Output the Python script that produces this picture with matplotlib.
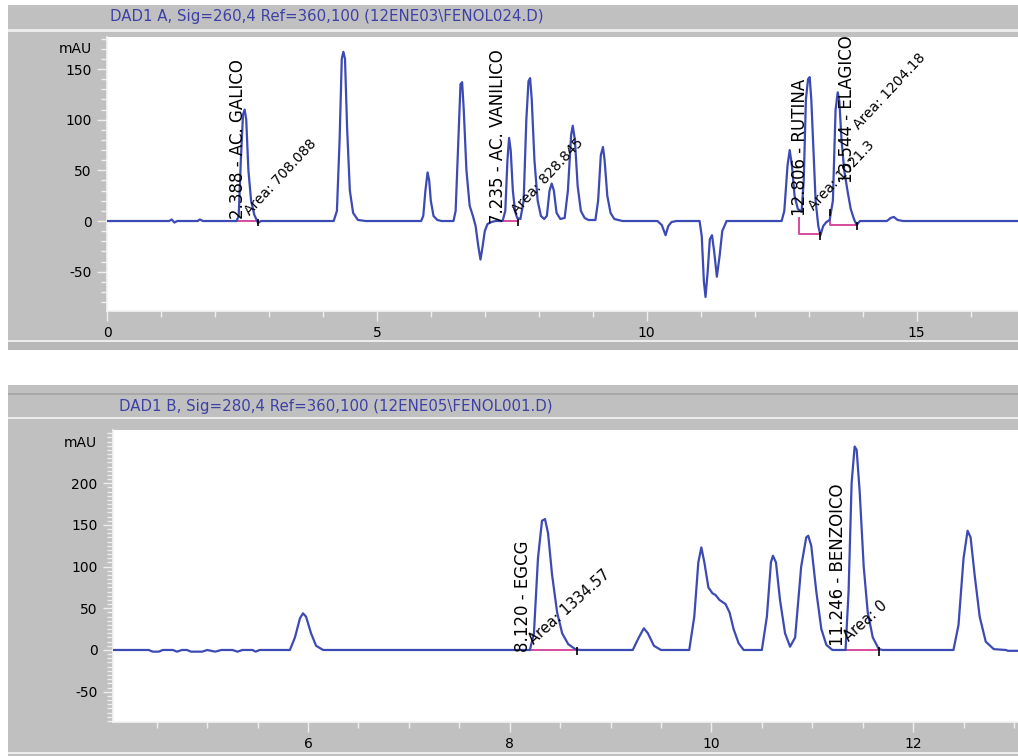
import numpy as np
import matplotlib
matplotlib.use("Agg")
import matplotlib.pyplot as plt
from matplotlib.patches import Rectangle
from matplotlib.ticker import MultipleLocator

plt.rcParams['axes.unicode_minus'] = False

# ---- data ----
# top chromatogram: DAD1 A, 260 nm (time in min, signal in mAU)
top_t = [0.0, 1.15, 1.2, 1.25, 1.3, 1.68, 1.72, 1.78,
         2.40, 2.44, 2.48, 2.52, 2.55, 2.58, 2.62, 2.67, 2.73, 2.80, 2.85,
         4.20, 4.26, 4.31, 4.35, 4.38, 4.41, 4.45, 4.50, 4.56, 4.65, 4.80,
         5.82, 5.86, 5.90, 5.94, 5.97, 6.00, 6.05, 6.12, 6.20,
         6.42, 6.46, 6.51, 6.55, 6.58, 6.61, 6.66, 6.72, 6.78,
         6.83, 6.88, 6.92, 6.96, 7.00, 7.05, 7.12, 7.20,
         7.33, 7.38, 7.42, 7.45, 7.48, 7.52, 7.56, 7.60,
         7.66, 7.72, 7.77, 7.81, 7.84, 7.87, 7.92, 7.98, 8.04, 8.10,
         8.15, 8.20, 8.24, 8.28, 8.33, 8.40,
         8.48, 8.54, 8.60, 8.63, 8.67, 8.72, 8.78, 8.85, 8.92,
         9.05, 9.10, 9.15, 9.19, 9.22, 9.27, 9.33, 9.40, 9.55,
         10.20, 10.28, 10.35, 10.40, 10.46, 10.55,
         10.98, 11.02, 11.06, 11.09, 11.13, 11.17, 11.21, 11.25, 11.30, 11.35, 11.40, 11.48,
         12.50, 12.55, 12.61, 12.65, 12.69, 12.74, 12.80, 12.87,
         12.91, 12.95, 12.99, 13.02, 13.05, 13.09, 13.13, 13.18, 13.22, 13.27, 13.33, 13.39,
         13.45, 13.50, 13.54, 13.57, 13.61, 13.66, 13.72, 13.78, 13.84, 13.89, 13.95,
         14.45, 14.52, 14.58, 14.65, 14.75, 16.9]
top_mau = [0, 0, 1.5, -1.5, 0, 0, 1.5, 0,
           0, 5, 60, 105, 110, 100, 50, 20, 6, -2, 0,
           0, 10, 80, 160, 167, 160, 90, 30, 8, 1, 0,
           0, 5, 30, 48, 40, 20, 5, 1, 0,
           0, 10, 80, 135, 137, 110, 50, 15, 5,
           -5, -25, -38, -25, -10, -3, -1, 0,
           0, 10, 60, 82, 70, 30, 10, 3,
           2, 20, 100, 138, 141, 120, 60, 20, 5, 2,
           5, 30, 37, 30, 8, 2,
           3, 30, 85, 94, 80, 35, 10, 3, 1,
           1, 20, 65, 73, 60, 25, 8, 2, 0,
           0, -4, -14, -5, -1, 0,
           0, -15, -60, -75, -50, -18, -14, -30, -55, -35, -10, 0,
           0, 10, 55, 70, 55, 25, 12, 9,
           40, 120, 140, 142, 120, 70, 20, -5, -14, -5, -1, 1,
           20, 110, 127, 118, 80, 50, 30, 12, 2, -4, 0,
           0, 3, 4, 1, 0, 0]

# bottom chromatogram: DAD1 B, 280 nm
bot_t = [4.0, 4.42, 4.46, 4.52, 4.56, 4.66, 4.70, 4.75, 4.80, 4.84, 4.95, 5.00,
         5.08, 5.14, 5.25, 5.30, 5.35, 5.45, 5.48, 5.52,
         5.82, 5.87, 5.92, 5.95, 5.98, 6.03, 6.08, 6.15,
         8.20, 8.24, 8.28, 8.32, 8.35, 8.38, 8.42, 8.47, 8.52, 8.58, 8.65, 8.70,
         9.22, 9.28, 9.33, 9.37, 9.43, 9.50,
         9.78, 9.83, 9.87, 9.90, 9.93, 9.97, 10.01, 10.04, 10.08, 10.14, 10.18, 10.22, 10.27, 10.32,
         10.50, 10.55, 10.59, 10.61, 10.64, 10.68, 10.73, 10.78,
         10.83, 10.89, 10.94, 10.96, 10.99, 11.04, 11.09, 11.14, 11.20,
         11.33, 11.36, 11.39, 11.42, 11.44, 11.47, 11.51, 11.55, 11.60, 11.66, 11.70,
         12.40, 12.45, 12.50, 12.54, 12.57, 12.61, 12.66, 12.72, 12.80, 12.92, 12.94, 13.1]
bot_mau = [0, 0, -2, -2, 0, 0, -2, 0, 0, -2, -2, 0,
           -2, 0, 0, -2, 0, 0, -2, 0,
           0, 15, 38, 44, 40, 20, 5, 0,
           0, 20, 110, 155, 157, 140, 90, 45, 20, 7, 1, 0,
           0, 15, 26, 20, 5, 0,
           0, 40, 105, 123, 105, 75, 68, 66, 60, 55, 45, 25, 8, 0,
           0, 40, 105, 113, 105, 60, 20, 4,
           15, 100, 135, 137, 125, 70, 25, 6, 0,
           0, 70, 200, 244, 240, 190, 100, 45, 15, 1, 0,
           0, 30, 110, 143, 135, 90, 40, 10, 1, 0, -1, -1]

# peak labels: (x, y) of label start, text
top_names = ["2.388 - AC. GALICO", "7.235 - AC. VANILICO", "12.806 - RUTINA", "13.544 - ELAGICO"]
top_name_x = [2.43, 7.245, 12.84, 13.71]
top_name_y = [2, -3, 5, 38]
top_areas = ["Area: 708.088", "Area: 828.845", "Area: 1021.3", "Area: 1204.18"]
top_area_x = [2.50, 7.45, 12.95, 13.79]
top_area_y = [3, 4, 8, 88]

bot_names = ["8.120 - EGCG", "11.246 - BENZOICO"]
bot_name_x = [8.13, 11.26]
bot_name_y = [-3, 5]
bot_areas = ["Area: 1334.57", "Area: 0"]
bot_area_x = [8.16, 11.28]
bot_area_y = [3, 7]

# integration baselines and end marks
top_base_x = [[2.39, 2.79], [7.28, 7.61], [12.83, 12.83, 13.22], [13.39, 13.39, 13.89]]
top_base_y = [[0, 0], [0, 0], [3, -13, -13], [8, -4, -4]]
top_mark_x = [2.79, 7.61, 13.22, 13.39, 13.89]
top_mark_lo = [-5, -5, -19, 5, -9]
top_mark_hi = [2, 2, -11, 12, -1]

bot_base_x = [[8.12, 8.67], [11.25, 11.66]]
bot_base_y = [[0, 0], [0, 0]]
bot_mark_x = [8.67, 11.66]
bot_mark_lo = [-6, -7]
bot_mark_hi = [4, 3]

W, H = 1018, 756
LINE = '#3c4ab4'
BASE = '#d64b9c'
GRAY = '#c0c0c0'

fig = plt.figure(figsize=(W / 100, H / 100), dpi=100)
fig.patch.set_facecolor('white')


def prect(x0, y0, x1, y1, color):
    fig.add_artist(Rectangle((x0 / W, 1 - y1 / H), (x1 - x0) / W, (y1 - y0) / H,
                             transform=fig.transFigure, color=color, lw=0, zorder=-10))


# window frames
prect(8, 5, 1018, 350, GRAY)
prect(8, 29, 1018, 32, '#ececec')
prect(8, 340, 1018, 342, '#ececec')
prect(8, 342, 1018, 350, '#b8b8b8')
prect(8, 385, 1018, 756, GRAY)
prect(8, 393, 1018, 395, '#a8a8a8')
prect(8, 417, 1018, 419, '#ececec')
prect(8, 752, 1018, 754, '#ececec')

fig.text(110 / W, 1 - 17 / H, r"DAD1 A, Sig=260,4 Ref=360,100 (12ENE03\FENOL024.D)",
         color='#3d41a6', fontsize=10.8, ha='left', va='center')
fig.text(119 / W, 1 - 407 / H, r"DAD1 B, Sig=280,4 Ref=360,100 (12ENE05\FENOL001.D)",
         color='#3d41a6', fontsize=10.8, ha='left', va='center')


def style(ax):
    ax.set_facecolor('white')
    for s in ['top', 'right']:
        ax.spines[s].set_visible(False)
    for s in ['left', 'bottom']:
        ax.spines[s].set_color('#f4f4f4')
        ax.spines[s].set_linewidth(1.2)
    ax.tick_params(which='major', length=7, width=1, color='#eeeeee', labelsize=10, pad=4)
    ax.tick_params(which='minor', length=4, width=1, color='#eeeeee')


# ---- top panel ----
ax1 = fig.add_axes([107 / W, (H - 311) / H, (W - 107) / W, (311 - 37.3) / H])
style(ax1)
ax1.plot(top_t, top_mau, color=LINE, lw=1.6, zorder=3)
for bx, by in zip(top_base_x, top_base_y):
    ax1.plot(bx, by, color=BASE, lw=1.4, zorder=2)
ax1.vlines(top_mark_x, top_mark_lo, top_mark_hi, color='black', lw=1.2, zorder=4)
for x, y, s in zip(top_name_x, top_name_y, top_names):
    ax1.text(x, y, s, rotation=90, ha='center', va='bottom', fontsize=12, zorder=5)
for x, y, s in zip(top_area_x, top_area_y, top_areas):
    ax1.text(x, y, s, rotation=47, ha='left', va='bottom', fontsize=10, zorder=5)
ax1.set_xlim(0, 16.88)
ax1.set_ylim(-88.8, 181.3)
ax1.set_xticks([0, 5, 10, 15])
ax1.set_yticks([-50, 0, 50, 100, 150])
ax1.xaxis.set_minor_locator(MultipleLocator(1))
ax1.yaxis.set_minor_locator(MultipleLocator(10))
fig.text(92 / W, 1 - 49 / H, "mAU", fontsize=10, ha='right', va='center')

# ---- bottom panel ----
ax2 = fig.add_axes([113 / W, (H - 721.7) / H, (W - 113) / W, (721.7 - 430) / H])
style(ax2)
ax2.plot(bot_t, bot_mau, color=LINE, lw=1.6, zorder=3)
for bx, by in zip(bot_base_x, bot_base_y):
    ax2.plot(bx, by, color=BASE, lw=1.4, zorder=2)
ax2.vlines(bot_mark_x, bot_mark_lo, bot_mark_hi, color='black', lw=1.2, zorder=4)
for x, y, s in zip(bot_name_x, bot_name_y, bot_names):
    ax2.text(x, y, s, rotation=90, ha='center', va='bottom', fontsize=12, zorder=5)
for x, y, s in zip(bot_area_x, bot_area_y, bot_areas):
    ax2.text(x, y, s, rotation=42, ha='left', va='bottom', fontsize=10.5, zorder=5)
ax2.set_xlim(4.066, 13.04)
ax2.set_ylim(-86, 263.8)
ax2.set_xticks([6, 8, 10, 12])
ax2.set_yticks([-50, 0, 50, 100, 150, 200])
ax2.xaxis.set_minor_locator(MultipleLocator(0.5))
ax2.yaxis.set_minor_locator(MultipleLocator(5))
fig.text(97 / W, 1 - 443 / H, "mAU", fontsize=10, ha='right', va='center')

fig.savefig('out.png', dpi=100, facecolor=fig.get_facecolor())
